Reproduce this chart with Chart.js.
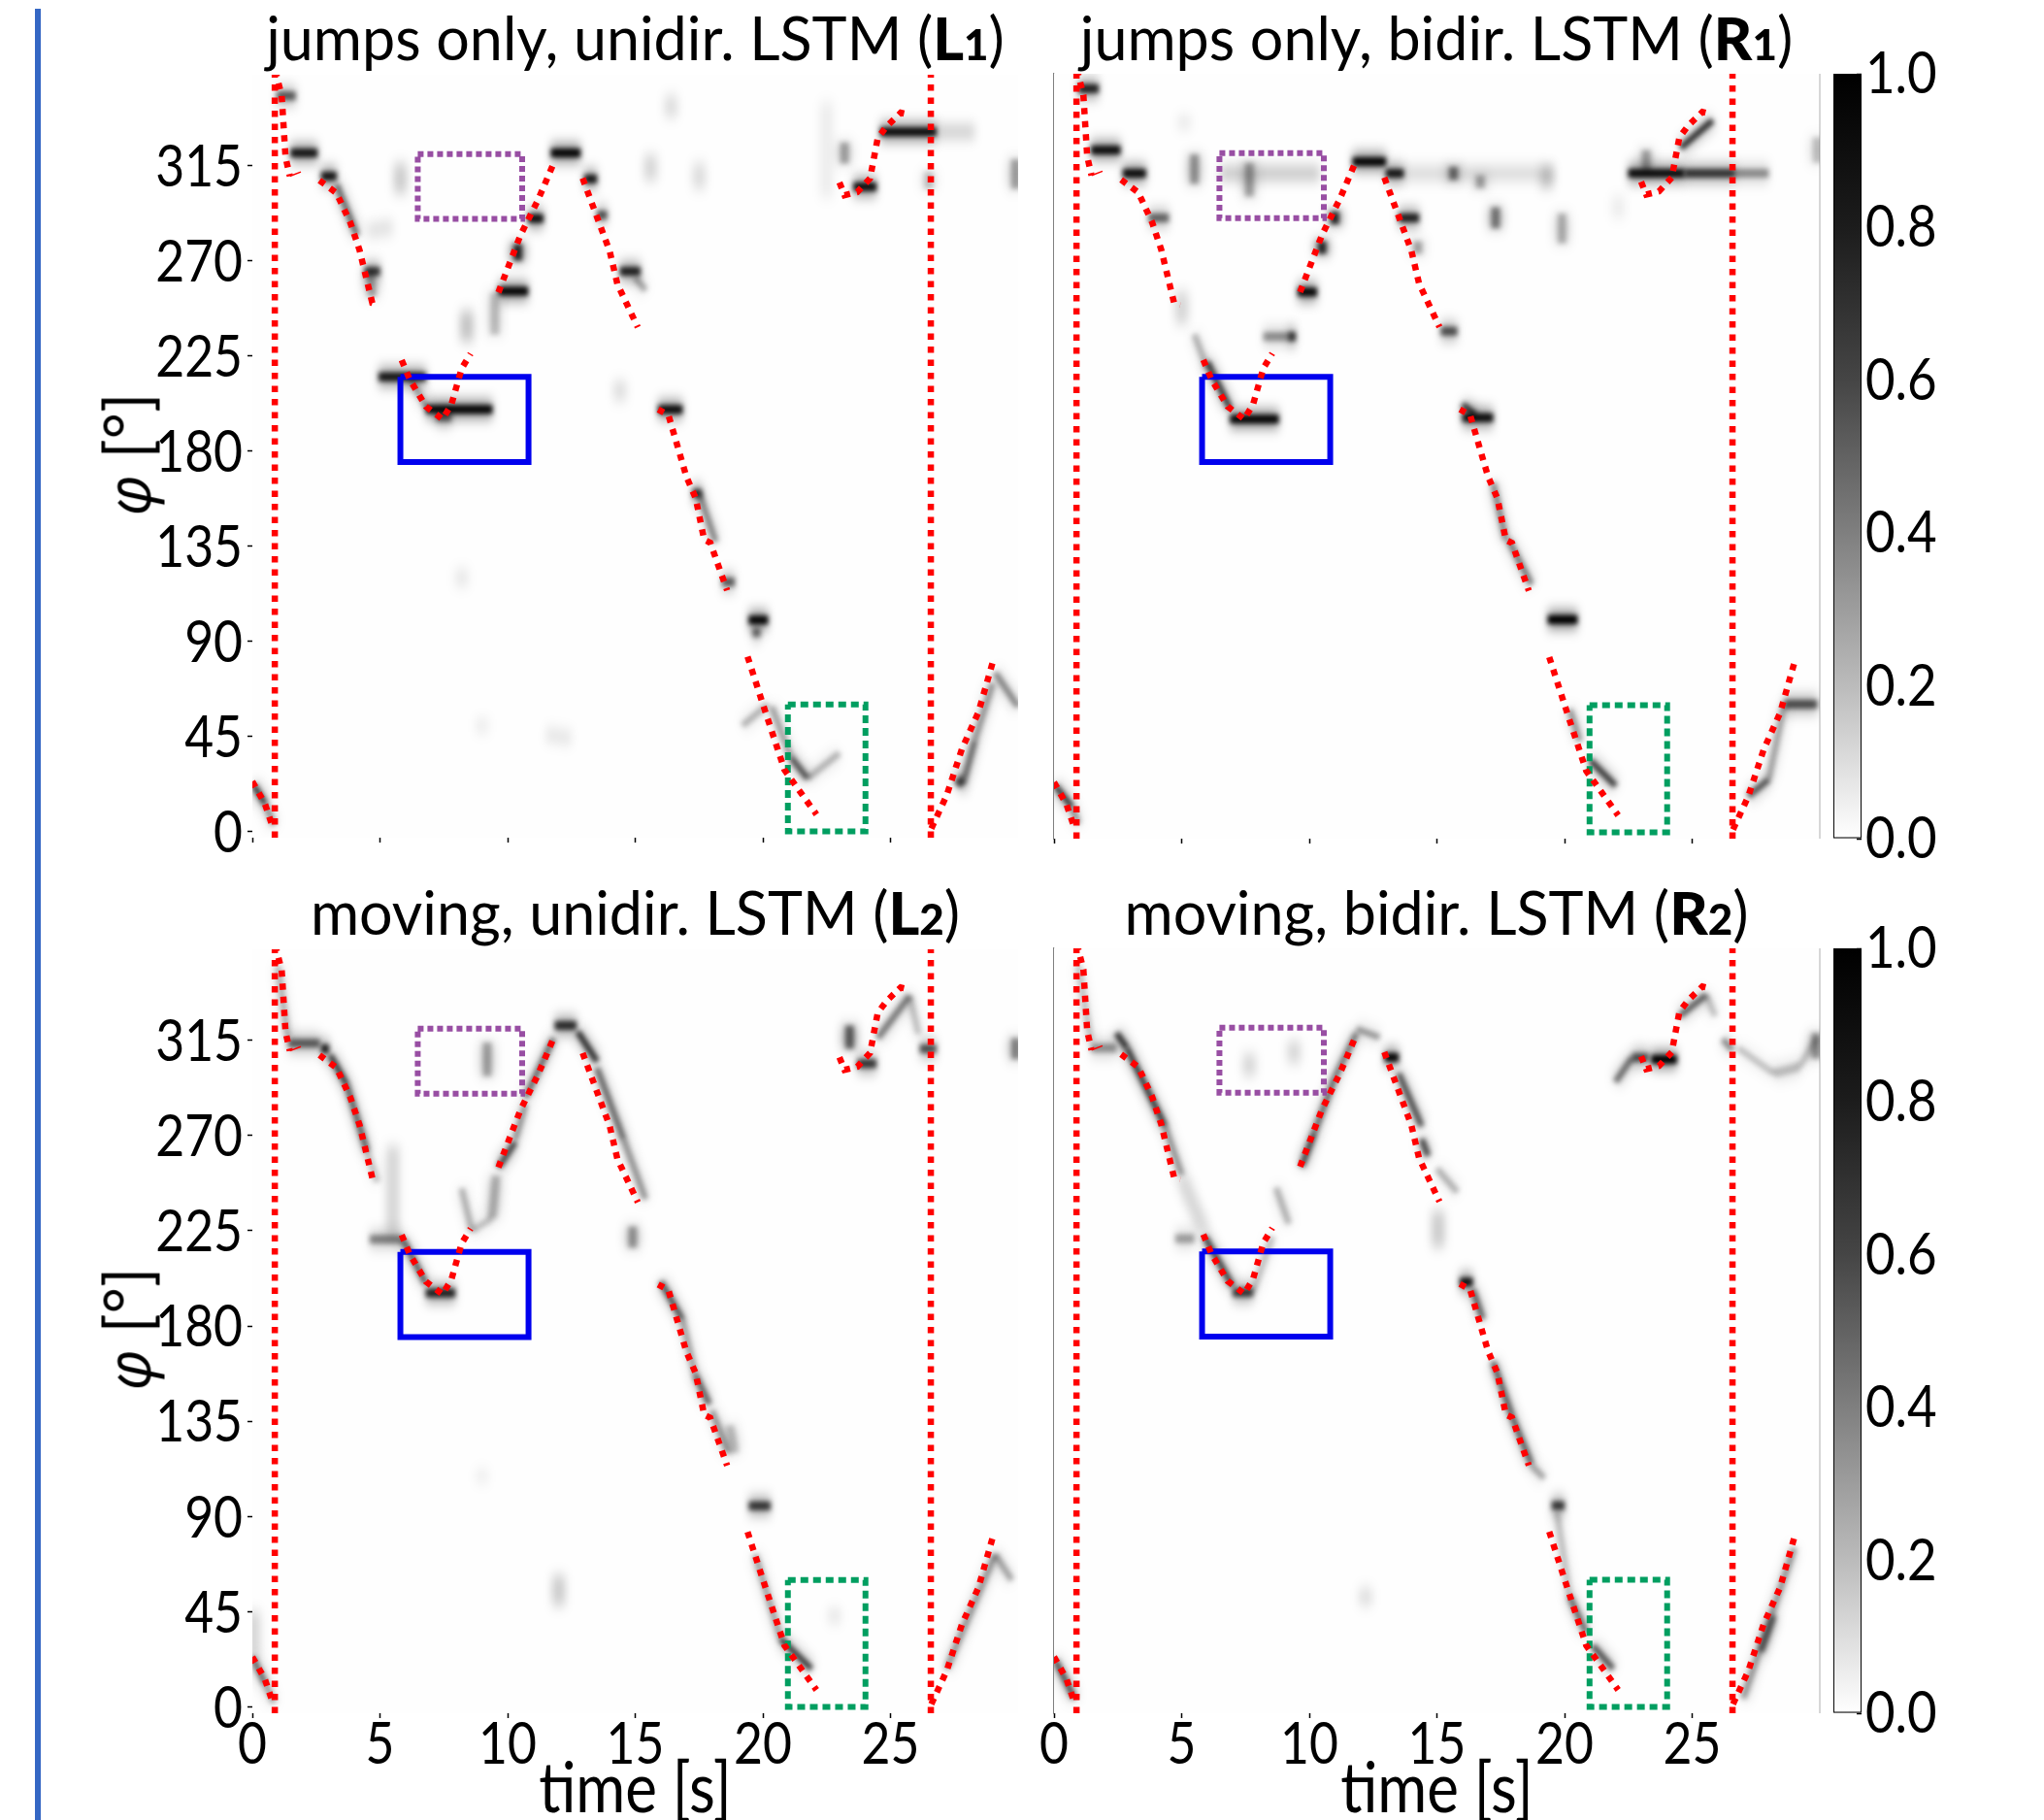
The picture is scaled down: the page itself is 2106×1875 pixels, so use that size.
<!DOCTYPE html>
<html><head><meta charset="utf-8">
<script src="https://cdn.jsdelivr.net/npm/chart.js@4"></script>
<style>
html,body{margin:0;padding:0;background:#fff;width:2106px;height:1875px;overflow:hidden}
canvas{position:absolute;display:block}
.sidebar{position:absolute;left:36px;top:9px;width:6px;height:1866px;background:#3567c4}
.ttl,.ylab{position:absolute;font-family:"Lato",sans-serif;color:#000;white-space:nowrap;font-size:61px;line-height:70px}
.ttl{transform:translateX(-50%)}
.ttl b{font-weight:900}
.ttl small{font-size:.72em}
.ylab{transform:translate(-50%,-50%) rotate(-90deg);font-size:66px}
.ylab i{font-family:"Open Sans",sans-serif;font-size:62px}
</style></head><body>
<svg width="0" height="0" style="position:absolute"><defs>
<filter id="coreBlur" x="-50%" y="-200%" width="200%" height="500%" color-interpolation-filters="sRGB"><feGaussianBlur stdDeviation="2.6 2.8"/></filter>
<filter id="haloBlur" x="-50%" y="-300%" width="200%" height="700%" color-interpolation-filters="sRGB"><feGaussianBlur stdDeviation="4 7"/></filter>
</defs></svg>
<div class="sidebar"></div>
<script>
// ---------- data ----------
const FONT = '"Lato",sans-serif';
const timeTicks = [0,5,10,15,20,25];
const phiTicks = [0,45,90,135,180,225,270,315];
const colorTicks = [0,0.2,0.4,0.6,0.8,1];
const titleText = ['jumps only, unidir. LSTM (','jumps only, bidir. LSTM (','moving, unidir. LSTM (','moving, bidir. LSTM ('];
const titleMark = ['L','R','L','R'];
const titleNum = ['1','1','2','2'];

// ground truth direction (red dotted), null = gap
const truthTime = [0,.49,.82,null,.9,1.15,1.3,1.47,null,2.63,3.3,3.84,4.2,4.7,4.95,null,5.85,6.16,6.8,7.45,7.8,8.2,8.55,null,9.64,10.5,11.2,11.8,null,12.94,13.4,14,14.3,15.1,null,15.9,16.3,17,17.37,17.7,17.94,18.6,null,19.4,20.1,20.85,22.1,null,23,23.2,23.7,24.2,24.5,24.85,25.4,25.75,null,26.6,27.2,27.8,28.45,29.05];
const truthPhi  = [23.6,13.1,1.3,null,360,348,319,310,null,308,302,288,275,250,249,null,223,214,201,195,202,219,226,null,255,282,299,316,null,309,294,274.5,259,238.5,null,199.6,197,168,157.6,138,136.6,114,null,82.7,56.5,29,8,null,307,301,302.5,309,328,333.6,340,339,null,1.3,17,39,56.5,82];
const silenceTime = [.88,.88,null,26.58,26.58];
const silencePhi  = [-3,360,null,-3,360];
const hookTime = [1.47,1.9];
const hookPhi  = [310,312];

// marked regions
const blueTime = [5.8,10.82,10.82,5.8,5.8];
const bluePhi  = [215,215,174.7,174.7,215];
const purpleTime = [6.48,10.57,10.57,6.48,6.48];
const purplePhi  = [320.5,320.5,289.8,289.8,320.5];
const greenTime = [20.98,24.02,24.02,20.98,20.98];
const greenPhi  = [60,60,0,0,60];

// posterior ridges: t0, phi0, t1, phi1, probability
const ridgeL1 = [[.05,22,.5,13,.7],[.5,13,.85,3,.35],[.95,348,1.7,348,.55],[1.5,321,2.55,321,.85],[2.7,310,3.3,310,.85],[3.3,306,4.1,282,.5],[4.4,265,5,265,.7],[4.6,265,4.7,253,.3],[4.95,215,6.8,215,.85],[6.2,214,6.8,201,.3],[6.8,199.7,9.4,199.7,.95],[7.2,196,7.8,196,.5],[8.4,246,8.4,232,.18],[9.5,255,9.5,235,.2],[9.65,255.6,10.8,255.6,.95],[10.4,278,10.4,270,.8],[10.8,290,11.4,290,.9],[11.7,321,12.85,321,.95],[13,308.7,13.5,308.7,.85],[13.5,291.6,13.9,291.6,.6],[14.4,265,15.2,265,.8],[15,262,15.4,256,.3],[15.9,199.6,16.85,199.6,.9],[17.25,160,17.6,160,.75],[17.5,160,18.15,137,.4],[18.4,118,18.9,118,.55],[19.45,100,20.2,100,.95],[19.6,94,19.9,94,.5],[19.2,50,20.2,60,.25],[20.35,59,21.1,35,.3],[21.1,35,21.75,25,.6],[21.75,25,23,37,.25],[23.2,326,23.2,316,.3],[23.55,305,24.45,305,.9],[24.6,331,26.8,331,.9],[26.8,331,28.3,331,.15],[26.5,312,26.5,304,.2],[29.9,318,29.9,304,.3],[15.6,320,15.6,308,.12],[17.5,316,17.5,304,.1],[5.8,316,5.8,302,.15],[16.4,348,16.4,338,.1],[4.5,284,5.5,286,.1],[11.5,46,12.5,44,.08],[9,53,9,47,.06],[27.6,22,27.9,25,.7],[27.9,25,28.3,43,.5],[28.3,43,29,70,.35],[29.1,75,30,59,.4],[14.4,213,14.4,204,.1],[8.2,124,8.2,116,.07],[22.5,345,22.5,300,.05]];
const ridgeR1 = [[.05,22,.7,12,.7],[.7,12,.95,4,.35],[.95,351,1.75,351,.8],[1.45,322,2.6,322,.9],[2.7,311,3.6,311,.9],[3.7,290,4.5,290,.5],[5,255,5,240,.12],[5.5,235,6,219,.25],[6,222,6.9,200,.7],[6.9,195,8.8,195,.95],[8.2,234,9.45,234,.35],[9.2,234,9.45,234,.6],[9.55,255,10.3,255,.95],[10.5,279,10.5,273,.8],[11,293,11,287,.8],[11.7,316.5,13,316.5,.95],[13,311,13.7,311,.85],[13.5,290,14.3,290,.8],[14.25,279,14.25,273,.3],[15.15,236.5,15.8,236.5,.6],[16,195.7,17.2,195.7,.9],[16,202,16.5,197,.7],[17.2,165,17.7,138,.4],[17.8,138,18.7,117,.45],[19.35,100.4,20.5,100.4,1],[20.2,58,20.6,43,.35],[21,34,22,22,.7],[22.5,311,24.7,311,.9],[24.7,311,26.7,311,.7],[26.7,311,28,311,.35],[24.55,323,25.8,336,.75],[5.5,320,5.5,306,.35],[13.7,311,19.6,311,.12],[15.65,314,15.65,308,.5],[16.7,310,16.7,304,.3],[17.3,295,17.3,285,.45],[19.9,292,19.9,278,.25],[19.3,314,19.3,304,.15],[7.65,316,7.65,300,.3],[6.5,311,10.4,311,.18],[29.9,328,29.9,316,.2],[28.6,60.5,29.9,60.5,.6],[27.2,17,28,25,.6],[28,25,28.6,60,.3],[5.1,338,5.1,332,.07],[23.2,322,23.2,312,.3],[22.1,300,22.1,290,.05]];
const ridgeL2 = [[0,23.6,.5,11,.5],[.5,11,.85,2,.3],[.05,45,.05,24,.12],[1,350,1.4,316,.25],[1.4,313.6,2.65,313.6,.55],[2.7,311,3,311,.85],[3.05,308,3.7,294,.7],[3.7,294,4.5,262.4,.55],[4.5,262,4.9,248,.2],[5.5,265,5.5,222,.12],[4.6,221,5.9,221,.4],[5.9,221,6.8,200,.55],[6.8,195.6,7.95,195.6,.8],[8.2,245,8.6,225,.25],[8.6,225,9.4,231,.2],[9.4,231,9.55,251,.25],[9.65,255,10.3,267,.65],[10.3,268,10.7,285,.35],[10.7,288,11.8,316,.5],[11.85,322,12.7,322,.75],[12.75,319,13.5,305,.75],[13.5,302,14.55,268,.5],[14.55,268,15.4,240,.35],[14.9,227,14.9,217,.35],[16,201,16.85,183,.6],[16.85,183,17.35,157,.3],[17.35,157,17.9,143,.55],[18,140,18.65,120,.35],[18.7,133,18.9,120,.2],[19.45,95,20.3,95,.7],[19.7,72,20.7,32,.3],[20.7,32,21.9,18,.7],[9.2,314,9.2,298,.3],[23.4,322,23.4,311,.55],[23.7,304,24.45,304,.7],[24.5,316,25.75,336,.45],[25.75,336,26.1,318,.2],[26.15,311,26.8,311,.6],[27.2,18,29.1,72,.35],[29.1,72,29.75,60,.3],[29.9,316,29.9,306,.4],[12,62,12,48,.15],[22.8,46,22.8,40,.08],[9,112,9,106,.05]];
const ridgeR2 = [[.05,22,.8,4,.6],[.95,350,1.45,314,.2],[1.45,311,2.45,311,.35],[2.45,318,2.85,311,.75],[2.85,311,4.35,274,.7],[4.35,274,5,251,.35],[5,250,5.9,224,.12],[4.75,221,5.5,221,.3],[5.9,222,7,198.5,.65],[7,195.6,7.8,195.6,.7],[7.8,196,8.55,222,.2],[8.7,245,9.2,228,.25],[9.7,255,10.2,271,.65],[10.2,271,11,297,.5],[11,297,11.85,318,.45],[11.85,320,12.75,316,.35],[12.95,306.5,13.5,306.5,.95],[13.5,299,14.4,274,.6],[14.4,268,14.65,260,.65],[15,254,15.8,243,.25],[15.05,234,15.05,217,.15],[15.9,200.5,16.4,200.5,.9],[16.4,197,16.8,183,.55],[17.2,163,17.95,137,.55],[17.95,137,18.7,114.6,.55],[18.7,114,19.2,108,.3],[19.5,95,20,95,.7],[19.7,92,20.2,52,.2],[20.2,52,20.85,35,.5],[21.1,29,21.9,18,.6],[22,295,22.65,306.5,.5],[22.65,306.5,23.3,306.5,.6],[23.4,305.6,24.4,305.6,1],[24.5,326,25.55,336,.55],[25.55,336,25.9,326,.2],[26.2,315,26.6,310,.4],[26.8,311,28.2,299,.2],[28.2,299,29.2,302,.2],[29.2,302,29.9,316,.2],[29.85,318,29.85,306,.35],[27,4,29,75,.35],[27.7,26,28.2,43,.5],[7.65,308,7.65,298,.12],[9.4,314,9.4,304,.12],[12.2,56,12.2,48,.1]];
const panelRidges = [ridgeL1,ridgeR1,ridgeL2,ridgeR2];

const barRange = [[0,1]];

// ---------- layout ----------
const PW=789, PH=788, PADV=40, PADC=70;
const cols=[260,1085.5], rows=[76,977];
const bottomH=[16,110];

function zip(xs,ys){return xs.map((x,i)=>({x:x,y:ys[i]}));}
function ridgeSets(segs){
  const out=[];
  segs.forEach(s=>{
    const d=s[4], pts=[{x:s[0],y:s[1]},{x:s[2],y:s[3]}];
    const faint=d<0.2, sloped=Math.abs(s[3]-s[1])>3&&Math.abs(s[2]-s[0])>.2;
    out.push({data:pts,borderColor:`rgba(0,0,0,${(faint?Math.min(1,1.3*d):(sloped?.32:.5)*d).toFixed(3)})`,borderWidth:faint?14:(sloped?14:18),blur:'url(#haloBlur)',order:11,pointRadius:0,borderCapStyle:'butt',fill:false});
    if(!faint) out.push({data:pts,borderColor:`rgba(0,0,0,${d})`,borderWidth:sloped?6.5:9,blur:'url(#coreBlur)',order:10,pointRadius:0,borderCapStyle:'butt',fill:false});
  });
  return out;
}
function lineSet(xs,ys,color,w,dash,order){
  return {data:zip(xs,ys),borderColor:color,borderWidth:w,borderDash:dash,pointRadius:0,order:order,fill:false,spanGaps:false,borderCapStyle:'butt',borderJoinStyle:'miter',tension:0};
}
const blurPlugin={id:'blur',
  beforeDatasetDraw(c,a){const d=c.data.datasets[a.index];if(d.blur){c.ctx.save();c.ctx.filter=d.blur;}},
  afterDatasetDraw(c,a){const d=c.data.datasets[a.index];if(d.blur){c.ctx.restore();}}
};
const framePlugin={id:'frame',beforeDatasetsDraw(c,a,o){
  const ar=c.chartArea,x=c.ctx;x.save();x.fillStyle='#fefefe';x.fillRect(ar.left,ar.top,ar.width,ar.height);
  if(o.rightLine){x.strokeStyle='#bdbdbd';x.lineWidth=1.2;x.beginPath();x.moveTo(ar.right,ar.top);x.lineTo(ar.right,ar.bottom);x.stroke();}
  x.restore();}};
// tall, narrow numerals of the reference: squeeze canvas text around its anchor
function narrowText(cv,k,dy){
  const c=cv.getContext('2d'),orig=c.fillText.bind(c);
  c.fillText=function(t,x,y,m){c.save();c.translate(x,y+dy);c.scale(k,1);orig(t,0,0,m);c.restore();};
}

function panel(idx){
  const col=idx%2,row=idx>>1,L=cols[col],T=rows[row];
  const W=col===0?130:30;
  const cv=document.createElement('canvas');
  const cw=W+PW+20,ch=PADV+PH+bottomH[row]+(row?0:PADV-16);
  cv.width=cw;cv.height=ch;
  cv.style.cssText=`left:${L-W}px;top:${T-PADV}px;width:${cw}px;height:${ch}px`;
  document.body.appendChild(cv);
  narrowText(cv,.86,2);
  new Chart(cv,{type:'line',plugins:[blurPlugin,framePlugin],
    data:{datasets:[
      ...ridgeSets(panelRidges[idx]),
      lineSet(blueTime,bluePhi,'#0000ee',6,[],3),
      lineSet(purpleTime,purplePhi,'#984ea3',6,[6,4],3),
      lineSet(greenTime,greenPhi,'#009e60',6,[8,5],3),
      lineSet(silenceTime,silencePhi,'#ff0000',6.5,[6.5,7],1),
      lineSet(truthTime,truthPhi,'#ff0000',6.5,[6.5,7],1),
      lineSet(hookTime,hookPhi,'#ff0000',1.5,[],1)
    ]},
    options:{responsive:false,animation:false,devicePixelRatio:1,events:[],
      layout:{padding:{top:PADV,right:20,left:0,bottom:row?0:PADV-16}},
      plugins:{legend:{display:false},tooltip:{enabled:false},frame:{rightLine:col===1},title:{display:false}},
      scales:{
        x:{type:'linear',min:0,max:30,
          afterBuildTicks(s){s.ticks=timeTicks.map(v=>({value:v}));},
          afterFit(s){s.height=bottomH[row];},
          grid:{drawOnChartArea:false,drawTicks:true,tickLength:5,tickColor:'#000',tickWidth:1.5},
          border:{display:false},
          ticks:{display:row===1,maxRotation:0,autoSkip:false,padding:-10,color:'#000',font:{family:FONT,size:60}},
          title:{display:row===1,text:'time [s]',color:'#000',font:{family:FONT,size:72},padding:{top:0,bottom:-10}}
        },
        y:{type:'linear',min:-3,max:358,
          afterBuildTicks(s){s.ticks=phiTicks.map(v=>({value:v}));},
          afterFit(s){s.width=W;},
          grid:{drawOnChartArea:false,drawTicks:col===0,tickLength:5,tickColor:'#000',tickWidth:1.5},
          border:{display:col===1,color:'#808080',width:1.2},
          ticks:{display:col===0,autoSkip:false,padding:5,color:'#000',font:{family:FONT,size:60}}
        }
      }
    }
  });
  const t=document.createElement('div');t.className='ttl';
  t.style.left=(L+PW/2)+'px';t.style.top=(T-72)+'px';
  t.innerHTML=titleText[idx]+'<b>'+titleMark[idx]+'<small>'+titleNum[idx]+'</small></b>)';
  document.body.appendChild(t);
  if(col===0){
    const y=document.createElement('div');y.className='ylab';
    y.style.left='130px';y.style.top=(T+PH/2-2)+'px';
    y.innerHTML='<i>φ</i> [°]';
    document.body.appendChild(y);
  }
}
function colorbar(row){
  const T=rows[row],L=1889,BW=29,RW=140;
  const cv=document.createElement('canvas');
  const cw=BW+RW,ch=PH+2*PADC;
  cv.width=cw;cv.height=ch;
  cv.style.cssText=`left:${L}px;top:${T-PADC}px;width:${cw}px;height:${ch}px`;
  document.body.appendChild(cv);
  narrowText(cv,.88,1);
  new Chart(cv,{type:'bar',
    data:{labels:[''],datasets:[{data:barRange,barPercentage:1,categoryPercentage:1,borderColor:'#000',borderWidth:1.3,borderSkipped:false,
      backgroundColor(ctx){const a=ctx.chart.chartArea;if(!a)return '#888';
        const g=ctx.chart.ctx.createLinearGradient(0,a.bottom,0,a.top);
        g.addColorStop(0,'#ffffff');g.addColorStop(.2,'#bbbbbb');g.addColorStop(.4,'#7f7f7f');g.addColorStop(.6,'#454545');g.addColorStop(.8,'#1c1c1c');g.addColorStop(1,'#000000');return g;}}]},
    options:{responsive:false,animation:false,devicePixelRatio:1,events:[],
      layout:{padding:{top:PADC,bottom:PADC,left:0,right:0}},
      plugins:{legend:{display:false},tooltip:{enabled:false}},
      scales:{
        x:{type:'category',display:false,offset:true},
        y:{type:'linear',position:'right',min:0,max:1,
          afterBuildTicks(s){s.ticks=colorTicks.map(v=>({value:v}));},
          afterFit(s){s.width=RW;},
          grid:{drawOnChartArea:false,drawTicks:true,tickLength:-5,tickColor:'#000',tickWidth:1.5},
          border:{display:false},
          ticks:{autoSkip:false,padding:9,color:'#000',font:{family:FONT,size:60},callback:v=>v.toFixed(1)}
        }
      }
    }
  });
}
[0,1,2,3].forEach(panel);
[0,1].forEach(colorbar);
</script>
</body></html>
